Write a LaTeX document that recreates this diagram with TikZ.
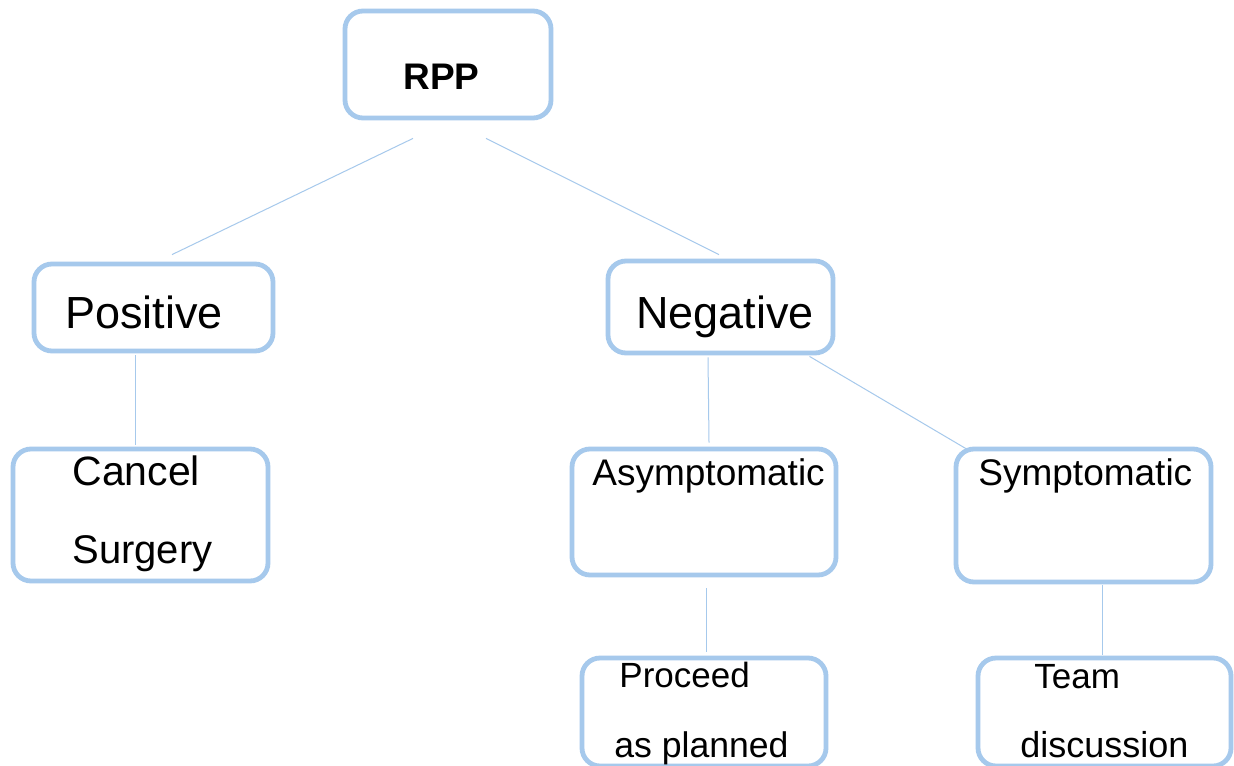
\documentclass[tikz,border=0pt]{standalone}
\usepackage{fontspec}
\setmainfont{Liberation Sans}
\usetikzlibrary{calc}
\definecolor{boxblue}{RGB}{166,201,236}
\begin{document}
\begin{tikzpicture}[x=0.5pt,y=-0.5pt,
  box/.style={draw=boxblue,line width=2.4pt,rounded corners=9pt,fill=white},
  conn/.style={draw=boxblue,line width=0.5pt},
  txt/.style={anchor=base west,inner sep=0pt,text=black}]
\clip (0,0) rectangle (1234,765);
\fill[white] (0,0) rectangle (1234,765);
% boxes
\path[box] (345,11) rectangle (551,118);
\node[inner sep=0pt,minimum width=103pt,minimum height=53.5pt] (rpp) at (448,64.5) {};
\path[box] (34,264) rectangle (273,351);
\node[inner sep=0pt,minimum width=119.5pt,minimum height=43.5pt] (pos) at (153.5,307.5) {};
\path[box] (608,261) rectangle (833,353);
\node[inner sep=0pt,minimum width=112.5pt,minimum height=46pt] (neg) at (720.5,307) {};
\path[box] (13,449) rectangle (268,581);
\node[inner sep=0pt,minimum width=127.5pt,minimum height=66pt] (cancel) at (140.5,515) {};
\path[box] (572,449) rectangle (836,575);
\node[inner sep=0pt,minimum width=132pt,minimum height=63pt] (asym) at (704,512) {};
\path[box] (956,449) rectangle (1211,582);
\node[inner sep=0pt,minimum width=127.5pt,minimum height=66.5pt] (sym) at (1083.5,515.5) {};
\path[box] (582,658) rectangle (826,766);
\node[inner sep=0pt,minimum width=122pt,minimum height=54pt] (proc) at (704,712) {};
\path[box] (978,658) rectangle (1231,766);
\node[inner sep=0pt,minimum width=126.5pt,minimum height=54pt] (team) at (1104.5,712) {};
% texts
\node[txt,font=\fontsize{18.5pt}{20pt}\selectfont\bfseries] (trpp) at (403,90) {RPP};
\node[txt,font=\fontsize{22.5pt}{24pt}\selectfont] (tpos) at (65,328) {Positive};
\node[txt,font=\fontsize{22.5pt}{24pt}\selectfont] (tneg) at (636,328) {Negative};
\node[txt,font=\fontsize{20.5pt}{22pt}\selectfont] (tcan) at (72,485) {Cancel};
\node[txt,font=\fontsize{20pt}{22pt}\selectfont] (tsur) at (72,563) {Surgery};
\node[txt,font=\fontsize{18.5pt}{20pt}\selectfont] (tasym) at (592,485) {Asymptomatic};
\node[txt,font=\fontsize{18.5pt}{20pt}\selectfont] (tsym) at (978,485) {Symptomatic};
\node[txt,font=\fontsize{17.5pt}{19pt}\selectfont] (tproc) at (619,687) {Proceed};
\node[txt,font=\fontsize{17.8pt}{19pt}\selectfont] (tplan) at (614,757) {as planned};
\node[txt,font=\fontsize{17.5pt}{19pt}\selectfont] (tteam) at (1034,688) {Team};
\node[txt,font=\fontsize{18pt}{19pt}\selectfont] (tdisc) at (1020,757) {discussion};
% connectors
\draw[conn] ($(rpp.south)+(-35,20)$) -- ($(pos.north)+(18.5,-9)$);
\draw[conn] ($(rpp.south)+(38,20)$) -- ($(neg.north)+(-1.5,-6)$);
\draw[conn] ($(pos.south)+(-18.5,4)$) -- ($(cancel.north)+(-5.5,-4)$);
\draw[conn] ($(neg.south)+(-12.5,4)$) -- ($(asym.north)+(5,-6)$);
\draw[conn] ($(neg.south)+(89,3)$) -- ($(sym.north west)+(12,1)$);
\draw[conn] ($(asym.south)+(2,13)$) -- ($(proc.north)+(2,-6)$);
\draw[conn] ($(sym.south)+(18.5,3)$) -- ($(team.north)+(-2.5,-3)$);
\end{tikzpicture}
\end{document}
